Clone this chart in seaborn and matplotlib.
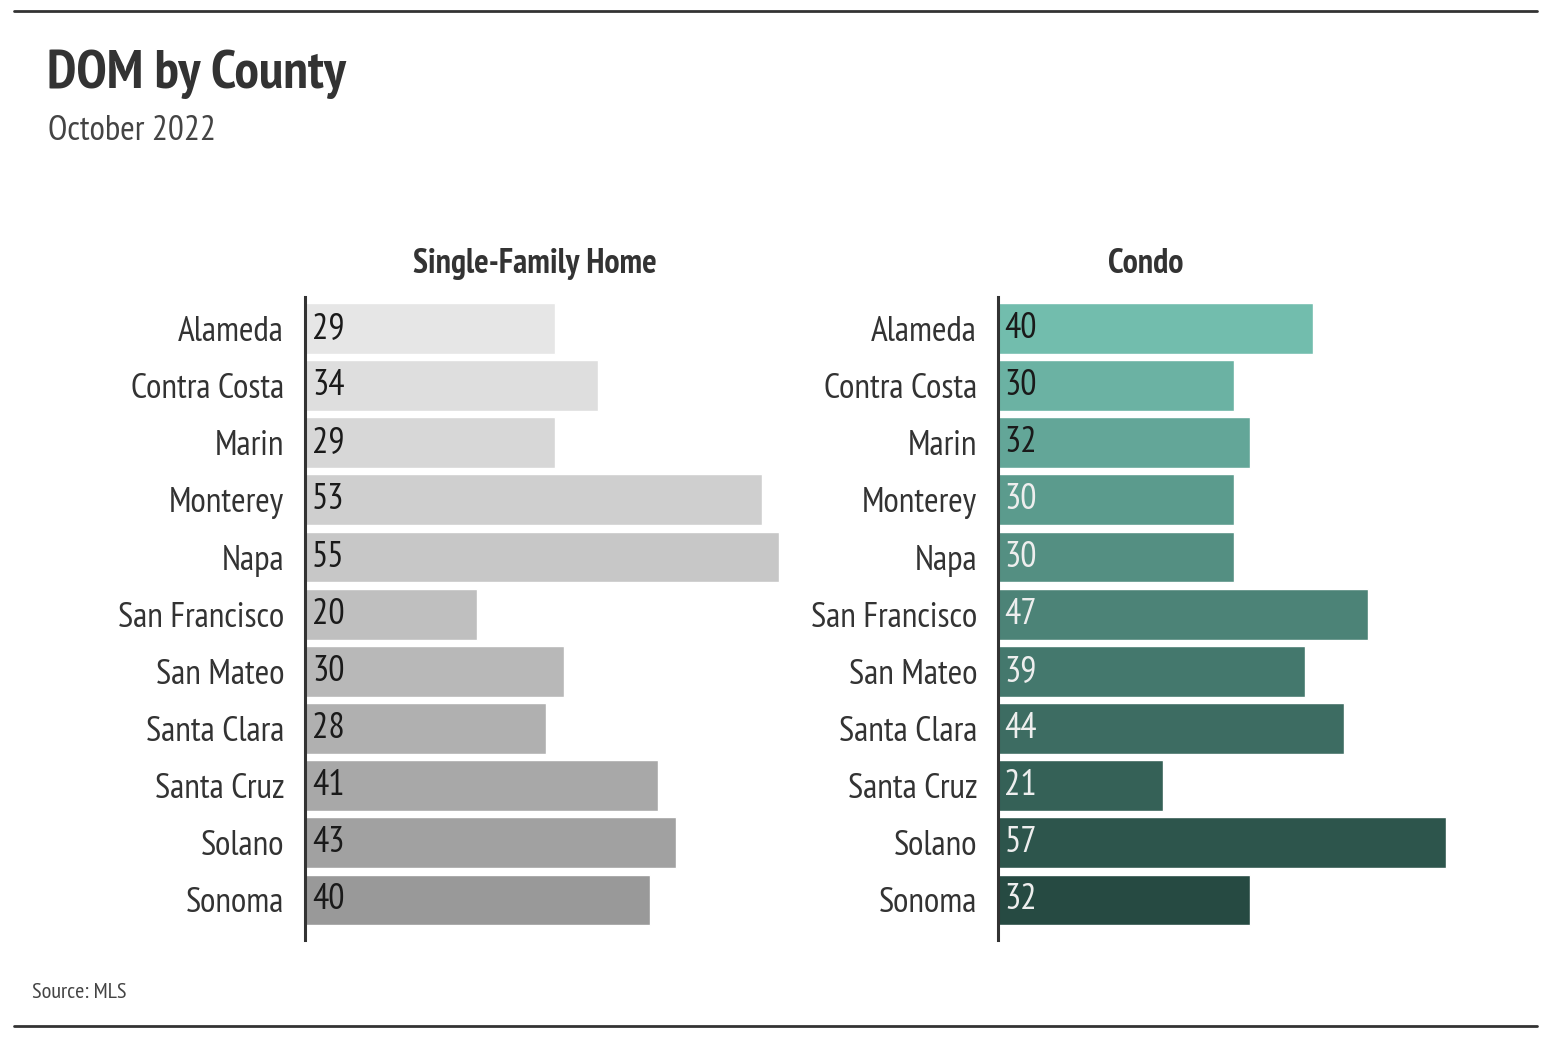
import matplotlib
matplotlib.use("Agg")
import matplotlib.pyplot as plt
from matplotlib import font_manager
import pandas as pd
import seaborn as sns

counties = ["Alameda", "Contra Costa", "Marin", "Monterey", "Napa", "San Francisco",
            "San Mateo", "Santa Clara", "Santa Cruz", "Solano", "Sonoma"]
sfh_dom = [29, 34, 29, 53, 55, 20, 30, 28, 41, 43, 40]
condo_dom = [40, 30, 32, 30, 30, 47, 39, 44, 21, 57, 32]

title = "DOM by County"
subtitle = "October 2022"
panel_titles = ["Single-Family Home", "Condo"]
source = "Source: MLS"

sns.set_theme(style="white")
names = {f.name for f in font_manager.fontManager.ttflist}
narrow = None
for cand in ["PT Sans Narrow", "Liberation Sans Narrow", "Roboto Condensed",
             "Open Sans Condensed", "Noto Sans Condensed"]:
    if cand in names:
        narrow = cand
        break
if narrow is None:
    narrow = "DejaVu Sans"
    plt.rcParams["font.stretch"] = "condensed"
plt.rcParams["font.family"] = [narrow, "DejaVu Sans"]

df = pd.DataFrame({"county": counties, "sfh": sfh_dom, "condo": condo_dom})

fig = plt.figure(figsize=(15.6, 10.5), dpi=100)
W, H = 1560, 1050

def add_axes_px(x0, y0, w, h):
    return fig.add_axes([x0 / W, 1 - (y0 + h) / H, w / W, h / H])

ax1 = add_axes_px(305, 297, 480, 643)
ax2 = add_axes_px(998, 297, 460, 643)

grey_pal = sns.blend_palette(["#e6e6e6", "#999999"], len(counties))
green_pal = sns.blend_palette(["#72bdad", "#264a42"], len(counties))

panels = [(ax1, "sfh", grey_pal, 55.7, panel_titles[0], 0.478),
          (ax2, "condo", green_pal, 58.5, panel_titles[1], 0.32)]

for ax, col, pal, xmax, ptitle, tx in panels:
    sns.barplot(data=df, x=col, y="county", hue="county", palette=pal,
                legend=False, width=0.89, ax=ax, saturation=1)
    ax.set_xlim(0, xmax)
    ax.set_ylim(len(counties) - 0.3, -0.55)
    ax.set_xlabel("")
    ax.set_ylabel("")
    ax.set_xticks([])
    for s in ["top", "right", "bottom"]:
        ax.spines[s].set_visible(False)
    ax.spines["left"].set_color("#333333")
    ax.spines["left"].set_linewidth(2.2)
    ax.tick_params(axis="y", length=0, pad=15, labelsize=25.5, labelcolor="#333333")
    ax.text(tx, 1.052, ptitle, transform=ax.transAxes, ha="center", va="center",
            fontsize=24.5, fontweight="bold", color="#333333")
    for i, (v, c) in enumerate(zip(df[col], pal)):
        lum = 0.299 * c[0] + 0.587 * c[1] + 0.114 * c[2]
        tc = "#1a1a1a" if lum > 0.55 else "#eeeeee"
        ax.text(0.8, i, str(v), ha="left", va="center", fontsize=26, color=tc)

fig.text(47 / W, 1 - 74 / H, title, fontsize=39.5, fontweight="bold",
         color="#333333", ha="left", va="center")
fig.text(48 / W, 1 - 131 / H, subtitle, fontsize=25.5, color="#444444",
         ha="left", va="center")
fig.text(32 / W, 1 - 993 / H, source, fontsize=16, color="#444444",
         ha="left", va="center")

fig.add_artist(plt.Line2D([14 / W, 1537 / W], [1 - 11 / H, 1 - 11 / H],
                          color="#333333", lw=2, transform=fig.transFigure))
fig.add_artist(plt.Line2D([14 / W, 1537 / W], [1 - 1026 / H, 1 - 1026 / H],
                          color="#333333", lw=2, transform=fig.transFigure))

fig.savefig("out.png", dpi=100)
